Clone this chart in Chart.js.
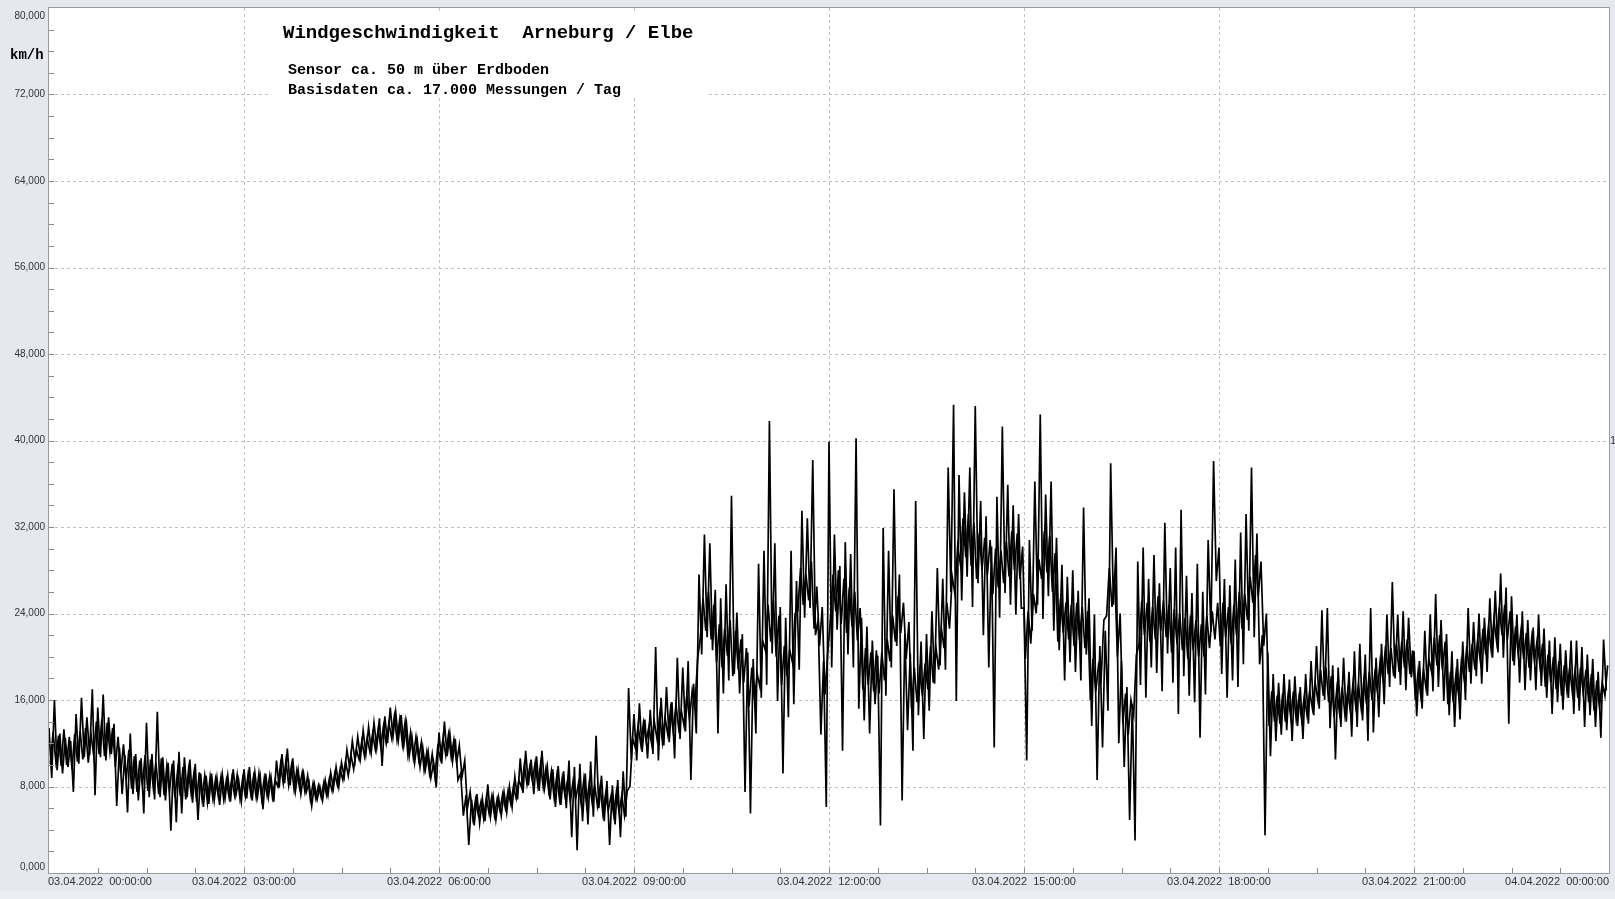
<!DOCTYPE html>
<html>
<head>
<meta charset="utf-8">
<script src="https://cdn.jsdelivr.net/npm/chart.js@4.4.1/dist/chart.umd.min.js"></script>
<style>
  html, body { margin: 0; padding: 0; background: #e5e8ef; }
  canvas { display: block; }
</style>
</head>
<body>
<canvas id="windChart" width="1615" height="899"></canvas>
<script>
// time axis (minutes since 03.04.2022 00:00) and labels
var xTickMinutes = [0, 180, 360, 540, 720, 900, 1080, 1260, 1440];
var xTickLabels = [
  "03.04.2022  00:00:00", "03.04.2022  03:00:00", "03.04.2022  06:00:00",
  "03.04.2022  09:00:00", "03.04.2022  12:00:00", "03.04.2022  15:00:00",
  "03.04.2022  18:00:00", "03.04.2022  21:00:00", "04.04.2022  00:00:00"
];
var yTicks = [0, 8, 16, 24, 32, 40, 48, 56, 64, 72, 80];
var stepMinutes = 2.5;

// wind speed km/h, readings every 2.5 minutes (on the full and half step), one array per 3 hours
var speed00 = [
  13.4, 8.8, 16.0, 9.5, 12.9, 9.2, 12.5, 9.8, 12.2, 7.5, 14.7, 10.1,
  16.2, 10.7, 14.4, 10.9, 17.0, 7.2, 15.3, 10.7, 16.5, 10.4, 14.4, 11.0,
  13.8, 6.2, 11.6, 7.3, 10.9, 5.6, 12.9, 7.3, 11.0, 6.7, 10.6, 5.5,
  13.9, 7.0, 11.0, 6.8, 14.9, 7.0, 10.7, 6.7, 10.2, 3.9, 10.4, 4.7,
  11.2, 5.5, 10.7, 7.0, 10.5, 6.5, 10.1, 4.9, 9.2, 6.1, 9.0, 6.4,
  9.2, 6.7, 8.8, 6.3, 9.1, 6.9, 9.0, 6.6, 9.6, 7.2, 8.6, 6.6
];
var speed00b = [
  10.1, 13.0, 10.4, 12.7, 9.9, 13.3, 10.0, 12.6, 9.6, 12.9, 10.3, 13.1,
  10.5, 13.4, 10.2, 12.8, 10.9, 14.0, 11.0, 14.2, 10.8, 13.9, 11.2, 13.4,
  9.8, 12.6, 9.2, 11.9, 8.6, 11.4, 7.8, 10.8, 7.5, 10.4, 8.1, 10.9,
  7.6, 10.5, 7.9, 10.2, 7.3, 10.6, 7.2, 9.9, 7.6, 10.1, 7.0, 9.5,
  7.1, 9.8, 6.8, 9.5, 7.3, 9.2, 6.6, 9.3, 6.9, 9.0, 6.5, 8.9,
  6.9, 8.7, 7.1, 8.9, 6.8, 8.6, 7.0, 8.8, 7.2, 9.1, 6.9, 8.7
];
var speed03 = [
  9.6, 6.9, 9.8, 6.7, 9.3, 7.1, 8.9, 5.9, 9.2, 7.0, 8.8, 6.6,
  10.4, 7.9, 11.0, 8.3, 11.5, 8.1, 10.6, 7.6, 9.5, 7.3, 9.2, 7.5,
  8.4, 6.2, 8.2, 6.8, 8.0, 6.7, 8.6, 7.2, 9.3, 7.8, 9.8, 8.0,
  10.2, 8.9, 11.4, 9.8, 12.2, 10.4, 12.6, 10.6, 13.2, 11.0, 13.5, 11.2,
  13.9, 11.6, 14.3, 9.9, 14.5, 12.0, 15.3, 12.6, 14.9, 12.3, 14.6, 11.8,
  13.8, 10.8, 12.6, 10.2, 12.2, 9.8, 11.6, 9.6, 11.2, 8.8, 10.2, 7.9
];
var speed03b = [
  7.1, 9.1, 7.3, 8.9, 7.0, 9.2, 6.9, 8.8, 7.2, 9.0, 7.0, 8.6,
  8.0, 10.1, 8.3, 10.4, 8.1, 9.9, 7.7, 9.5, 7.9, 9.3, 7.5, 9.0,
  6.8, 8.3, 6.9, 8.1, 7.0, 8.4, 7.2, 8.7, 7.6, 9.2, 8.1, 9.6,
  8.6, 10.3, 9.0, 10.9, 9.6, 11.4, 10.5, 12.2, 10.8, 12.5, 11.2, 12.9,
  11.4, 13.2, 11.7, 13.6, 12.0, 13.9, 12.5, 14.5, 12.3, 14.2, 11.9, 14.0,
  11.0, 13.0, 10.7, 12.6, 10.5, 12.1, 9.5, 11.2, 9.2, 11.0, 9.0, 11.6
];
var speed06 = [
  13.0, 10.1, 14.0, 10.8, 12.9, 10.3, 12.4, 8.6, 9.2, 5.3, 7.2, 2.6,
  6.8, 4.4, 7.3, 4.6, 6.9, 4.8, 8.2, 5.2, 7.1, 4.9, 7.0, 5.3,
  7.5, 5.6, 8.0, 6.1, 8.9, 6.8, 10.6, 7.4, 11.3, 8.1, 10.5, 7.3,
  10.8, 7.6, 11.3, 7.9, 9.8, 6.8, 9.6, 6.1, 9.9, 6.3, 9.4, 6.0,
  10.4, 3.3, 9.8, 2.1, 10.1, 4.8, 9.2, 4.5, 10.3, 5.2, 12.7, 6.0,
  9.0, 4.8, 8.5, 2.6, 8.1, 4.5, 8.6, 3.3, 9.4, 5.2, 17.1, 10.5
];
var speed06b = [
  10.6, 12.5, 10.9, 12.8, 10.7, 12.3, 10.2, 11.8, 8.9, 10.4, 6.0, 7.5,
  5.1, 6.8, 5.4, 6.6, 5.0, 7.0, 5.5, 7.1, 5.3, 6.9, 5.8, 7.3,
  6.0, 7.6, 6.4, 8.0, 6.9, 8.6, 7.9, 10.0, 8.2, 9.8, 8.5, 10.2,
  8.1, 10.1, 7.9, 9.7, 7.6, 9.4, 7.0, 9.0, 6.8, 8.8, 7.2, 8.6,
  6.6, 8.5, 6.9, 8.3, 6.4, 8.7, 6.3, 8.4, 6.6, 8.1, 6.2, 8.0,
  5.5, 7.3, 5.8, 7.1, 5.4, 7.5, 5.6, 7.2, 5.3, 7.6, 8.0, 12.4
];
var speed09 = [
  14.7, 10.4, 15.7, 11.2, 14.2, 10.6, 15.1, 11.0, 20.9, 10.4, 16.2, 11.8,
  17.2, 12.1, 15.8, 10.6, 19.9, 12.4, 19.0, 13.1, 19.6, 8.6, 17.5, 12.9,
  27.6, 20.2, 31.3, 21.8, 30.5, 20.6, 26.2, 12.9, 25.4, 16.6, 26.7, 17.8,
  34.9, 18.4, 24.1, 16.6, 22.1, 7.5, 20.4, 5.5, 19.8, 12.9, 28.6, 16.2,
  29.8, 17.4, 41.8, 20.3, 30.5, 15.9, 24.6, 9.2, 23.6, 14.4, 29.8, 15.6,
  27.0, 18.8, 33.5, 23.6, 32.8, 24.5, 38.2, 22.0, 23.4, 12.8, 19.6, 6.1
];
var speed09b = [
  11.6, 13.6, 11.9, 13.9, 12.2, 13.5, 12.0, 14.0, 12.4, 14.6, 12.1, 14.3,
  12.8, 15.2, 13.1, 15.6, 13.4, 15.0, 13.6, 16.4, 14.2, 16.9, 15.5, 19.8,
  21.8, 25.4, 22.4, 26.0, 21.6, 24.8, 19.5, 23.0, 19.0, 22.6, 20.1, 23.4,
  18.2, 22.4, 18.8, 21.6, 17.6, 20.8, 15.4, 19.0, 16.0, 18.4, 17.2, 21.5,
  20.6, 24.8, 21.4, 25.2, 20.0, 23.8, 17.4, 21.0, 18.2, 20.6, 19.5, 24.0,
  24.2, 28.2, 24.8, 27.6, 25.2, 28.8, 22.6, 26.5, 21.0, 24.6, 16.5, 20.2
];
var speed12 = [
  39.9, 19.0, 31.3, 22.5, 28.4, 11.3, 30.6, 20.2, 29.5, 19.0, 40.2, 15.2,
  23.6, 14.1, 22.8, 12.9, 21.5, 15.6, 20.1, 4.4, 31.9, 16.4, 29.8, 19.0,
  35.5, 21.0, 27.6, 6.7, 22.1, 13.2, 20.3, 11.3, 34.4, 14.6, 21.4, 12.4,
  22.1, 15.0, 24.2, 17.5, 28.2, 19.2, 27.2, 18.8, 37.5, 26.0, 43.3, 15.9,
  36.8, 25.2, 35.2, 27.4, 37.5, 24.6, 43.2, 26.8, 34.4, 22.0, 33.0, 19.0,
  30.2, 11.6, 34.8, 23.6, 41.3, 25.9, 35.9, 24.8, 34.0, 23.9, 33.2, 24.5
];
var speed12b = [
  23.4, 27.6, 24.2, 28.0, 23.0, 27.2, 22.2, 26.4, 22.8, 26.0, 21.5, 24.5,
  17.0, 20.8, 17.4, 20.4, 16.8, 20.6, 16.6, 20.4, 17.8, 21.6, 19.6, 23.8,
  21.4, 25.6, 22.2, 25.0, 19.8, 23.2, 15.2, 19.0, 15.8, 18.6, 16.4, 19.4,
  17.0, 21.0, 17.6, 20.8, 18.8, 22.6, 20.8, 25.0, 22.6, 27.4, 25.8, 30.2,
  28.6, 32.8, 29.2, 33.2, 28.4, 32.4, 27.2, 31.4, 28.0, 31.0, 27.6, 30.8,
  25.8, 30.0, 26.4, 29.8, 26.8, 30.6, 27.4, 31.6, 28.0, 31.4, 27.2, 30.2
];
var speed15 = [
  24.5, 10.4, 30.8, 22.4, 36.2, 24.8, 42.4, 23.5, 35.0, 25.6, 36.2, 22.4,
  31.0, 20.6, 28.5, 17.8, 27.4, 19.5, 28.0, 18.6, 26.1, 17.8, 33.8, 20.2,
  25.4, 13.6, 23.9, 8.6, 21.0, 11.6, 22.4, 15.0, 37.9, 24.8, 30.1, 12.0,
  19.6, 9.8, 17.2, 4.9, 15.6, 3.0, 28.8, 17.4, 30.1, 16.2, 27.2, 19.0,
  29.4, 18.5, 26.8, 16.8, 32.4, 20.3, 28.2, 17.6, 30.1, 14.7, 33.6, 18.2,
  27.5, 16.4, 25.9, 15.8, 28.6, 12.5, 26.0, 16.5, 30.8, 22.3, 38.1, 27.0
];
var speed15b = [
  19.8, 24.2, 21.2, 25.8, 24.0, 29.0, 27.2, 31.6, 27.8, 31.2, 26.0, 29.6,
  21.4, 25.4, 22.2, 25.0, 21.6, 24.8, 21.0, 25.0, 21.6, 24.6, 20.8, 24.2,
  16.0, 19.8, 16.8, 19.2, 18.0, 23.4, 23.8, 28.2, 24.6, 27.6, 20.0, 24.0,
  13.8, 16.6, 12.8, 16.0, 14.6, 20.2, 21.2, 25.2, 22.0, 25.0, 21.4, 24.6,
  21.6, 25.6, 22.4, 25.2, 21.8, 24.8, 20.4, 24.4, 21.2, 24.0, 20.6, 23.6,
  19.8, 23.8, 20.6, 23.4, 20.0, 23.0, 20.0, 23.8, 20.8, 24.2, 21.6, 25.0
];
var speed18 = [
  30.1, 18.4, 27.2, 16.2, 26.6, 17.8, 29.0, 17.2, 31.5, 19.3, 33.2, 22.4,
  37.5, 21.8, 31.4, 19.3, 22.0, 3.5, 20.4, 10.8, 18.4, 12.2, 17.6, 12.8,
  18.4, 13.2, 17.9, 12.2, 18.2, 13.6, 17.2, 12.4, 18.4, 13.8, 19.6, 14.6,
  21.0, 15.2, 24.3, 16.0, 24.5, 13.4, 19.2, 10.5, 19.0, 13.5, 19.9, 14.0,
  18.6, 12.6, 20.5, 13.5, 21.2, 14.1, 20.2, 12.2, 24.5, 13.0, 19.9, 14.4,
  21.2, 15.6, 23.9, 17.2, 26.9, 18.0, 23.9, 17.4, 24.2, 16.9, 23.6, 18.1
];
var speed18b = [
  21.0, 25.0, 21.8, 24.6, 21.2, 24.8, 22.0, 26.0, 22.6, 25.8, 23.4, 27.4,
  25.0, 29.4, 25.6, 28.8, 21.0, 24.0, 13.6, 16.8, 14.0, 16.4, 13.8, 16.6,
  14.0, 16.4, 14.4, 16.8, 14.2, 16.2, 14.2, 16.4, 14.6, 16.8, 15.2, 17.6,
  16.0, 18.8, 16.4, 19.0, 15.8, 18.2, 14.4, 17.0, 14.8, 17.2, 14.6, 16.8,
  15.0, 17.6, 15.4, 17.4, 15.2, 17.8, 15.6, 18.6, 16.0, 18.4, 16.8, 19.6,
  18.0, 21.0, 18.4, 20.8, 18.2, 21.2, 18.6, 21.4, 19.0, 21.6, 18.4, 20.6
];
var speed21 = [
  20.5, 14.5, 19.6, 15.2, 22.4, 16.4, 23.9, 16.8, 25.8, 17.2, 23.4, 15.9,
  22.1, 14.6, 20.5, 13.5, 19.8, 14.2, 21.4, 16.0, 24.5, 17.5, 23.2, 18.2,
  24.0, 17.5, 23.6, 18.6, 25.4, 19.9, 26.1, 20.4, 27.7, 19.9, 26.4, 13.8,
  25.6, 19.2, 23.9, 17.6, 24.2, 16.9, 23.4, 17.8, 22.7, 16.9, 23.9, 17.3,
  22.6, 16.2, 21.5, 14.7, 21.8, 15.8, 21.2, 15.1, 20.6, 16.2, 21.5, 14.7,
  21.5, 15.0, 20.9, 13.5, 20.2, 14.6, 19.8, 13.5, 18.6, 12.5, 21.6, 16.9
];
var speed21b = [
  16.0, 18.6, 16.4, 18.8, 17.0, 19.8, 18.6, 21.8, 19.2, 22.0, 18.8, 21.4,
  15.6, 18.6, 15.8, 18.4, 16.4, 19.6, 18.0, 21.0, 18.6, 21.2, 18.8, 21.6,
  19.6, 22.6, 20.2, 22.8, 20.6, 23.4, 21.4, 24.6, 22.0, 24.8, 21.6, 24.2,
  19.6, 22.8, 20.2, 22.4, 19.8, 22.2, 19.0, 21.8, 19.6, 21.6, 19.2, 21.2,
  17.2, 20.2, 17.6, 20.0, 17.0, 19.6, 16.4, 19.2, 16.8, 19.0, 16.6, 18.8,
  16.2, 19.0, 16.6, 18.8, 15.8, 18.4, 15.0, 17.8, 15.4, 17.6, 16.4, 19.2
];

var speedA = [].concat(speed00, speed03, speed06, speed09, speed12, speed15, speed18, speed21);
var speedB = [].concat(speed00b, speed03b, speed06b, speed09b, speed12b, speed15b, speed18b, speed21b);
var pointsA = speedA.map(function (v, i) {
  return { x: i * stepMinutes, y: v };
});
var pointsB = speedB.map(function (v, i) {
  return { x: i * stepMinutes + stepMinutes / 2, y: v };
});

function fmtKmh(v) {
  return v.toFixed(3).replace(".", ",");
}

var deco = {
  id: "deco",
  beforeDraw: function (chart) {
    var c = chart.ctx, a = chart.chartArea;
    c.save();
    c.fillStyle = "#e5e8ef";
    c.fillRect(0, 0, chart.width, chart.height);
    c.fillStyle = "#eceef3";
    c.fillRect(0, 891, chart.width, 8);
    c.fillStyle = "#ffffff";
    c.fillRect(a.left, a.top, a.right - a.left, a.bottom - a.top);
    c.restore();
  },
  beforeDatasetsDraw: function (chart) {
    var c = chart.ctx, a = chart.chartArea;
    var xs = chart.scales.x, ys = chart.scales.y;
    c.save();
    c.strokeStyle = "#c2c2c2";
    c.lineWidth = 1;
    c.setLineDash([3, 3]);
    yTicks.forEach(function (v) {
      if (v === 0 || v === 80) return;
      var py = Math.round(ys.getPixelForValue(v)) + 0.5;
      c.beginPath(); c.moveTo(a.left, py); c.lineTo(a.right, py); c.stroke();
    });
    xTickMinutes.forEach(function (m) {
      if (m === 0 || m === 1440) return;
      var px = Math.round(xs.getPixelForValue(m)) + 0.5;
      c.beginPath(); c.moveTo(px, a.top); c.lineTo(px, a.bottom); c.stroke();
    });
    c.restore();
  },
  afterDraw: function (chart) {
    var c = chart.ctx, a = chart.chartArea;
    var xs = chart.scales.x, ys = chart.scales.y;
    c.save();
    // frame
    c.strokeStyle = "#9a9a9a";
    c.lineWidth = 1;
    c.strokeRect(Math.round(a.left) - 0.5, Math.round(a.top) - 0.5,
      Math.round(a.right - a.left) + 1, Math.round(a.bottom - a.top) + 1);
    // minor ticks
    c.strokeStyle = "#8a8a8a";
    for (var v = 2; v < 80; v += 2) {
      var py = Math.round(ys.getPixelForValue(v)) + 0.5;
      c.beginPath(); c.moveTo(a.left, py); c.lineTo(a.left + 5, py); c.stroke();
    }
    for (var m = 45; m < 1440; m += 45) {
      var px = Math.round(xs.getPixelForValue(m)) + 0.5;
      c.beginPath(); c.moveTo(px, a.bottom); c.lineTo(px, a.bottom - 5); c.stroke();
    }
    // y labels
    c.fillStyle = "#333333";
    c.font = "10px 'Liberation Sans', Arial, sans-serif";
    c.textAlign = "right";
    c.textBaseline = "middle";
    yTicks.forEach(function (v) {
      var py = ys.getPixelForValue(v);
      py = Math.max(16, Math.min(867, py));
      c.fillText(fmtKmh(v), 45, py);
    });
    // x labels
    c.font = "11px 'Liberation Sans', Arial, sans-serif";
    xTickMinutes.forEach(function (m, i) {
      var px = xs.getPixelForValue(m);
      if (i === 0) { c.textAlign = "left"; px = a.left - 1; }
      else if (i === xTickMinutes.length - 1) { c.textAlign = "right"; px = a.right; }
      else { c.textAlign = "center"; }
      c.fillText(xTickLabels[i], px, 882);
    });
    c.textAlign = "left";
    c.fillText("1", 1610, 441);
    // unit
    c.fillStyle = "#000000";
    c.font = "bold 14px 'Liberation Mono', 'Courier New', monospace";
    c.fillText("km/h", 10, 55);
    // title block
    c.fillStyle = "#ffffff";
    c.fillRect(270, 12, 438, 86);
    c.fillStyle = "#000000";
    c.font = "bold 19px 'Liberation Mono', 'Courier New', monospace";
    c.fillText("Windgeschwindigkeit  Arneburg / Elbe", 283, 33);
    c.font = "bold 15px 'Liberation Mono', 'Courier New', monospace";
    c.fillText("Sensor ca. 50 m über Erdboden", 288, 70);
    c.fillText("Basisdaten ca. 17.000 Messungen / Tag", 288, 90);
    c.restore();
  }
};

var ctx = document.getElementById("windChart");
var windChart = new Chart(ctx, {
  type: "line",
  data: {
    datasets: [
      {
        label: "Windgeschwindigkeit",
        data: pointsA,
        borderColor: "#000000",
        borderWidth: 1.7,
        pointRadius: 0,
        tension: 0,
        fill: false,
      },
      {
        label: "Windgeschwindigkeit (Zwischenwerte)",
        data: pointsB,
        borderColor: "#000000",
        borderWidth: 1.7,
        pointRadius: 0,
        tension: 0,
        fill: false,
      },
    ],
  },
  options: {
    responsive: false,
    animation: false,
    layout: { padding: { left: 49, right: 6, top: 8, bottom: 26 } },
    scales: {
      x: {
        type: "linear",
        min: 0,
        max: 1440,
        grid: { display: false },
        border: { display: false },
        ticks: { display: false },
        afterFit: function (s) { s.height = 0; },
      },
      y: {
        min: 0,
        max: 80,
        grid: { display: false },
        border: { display: false },
        ticks: { display: false },
        afterFit: function (s) { s.width = 0; },
      },
    },
    plugins: {
      legend: { display: false },
      tooltip: { enabled: false },
    },
  },
  plugins: [deco],
});
</script>
</body>
</html>
